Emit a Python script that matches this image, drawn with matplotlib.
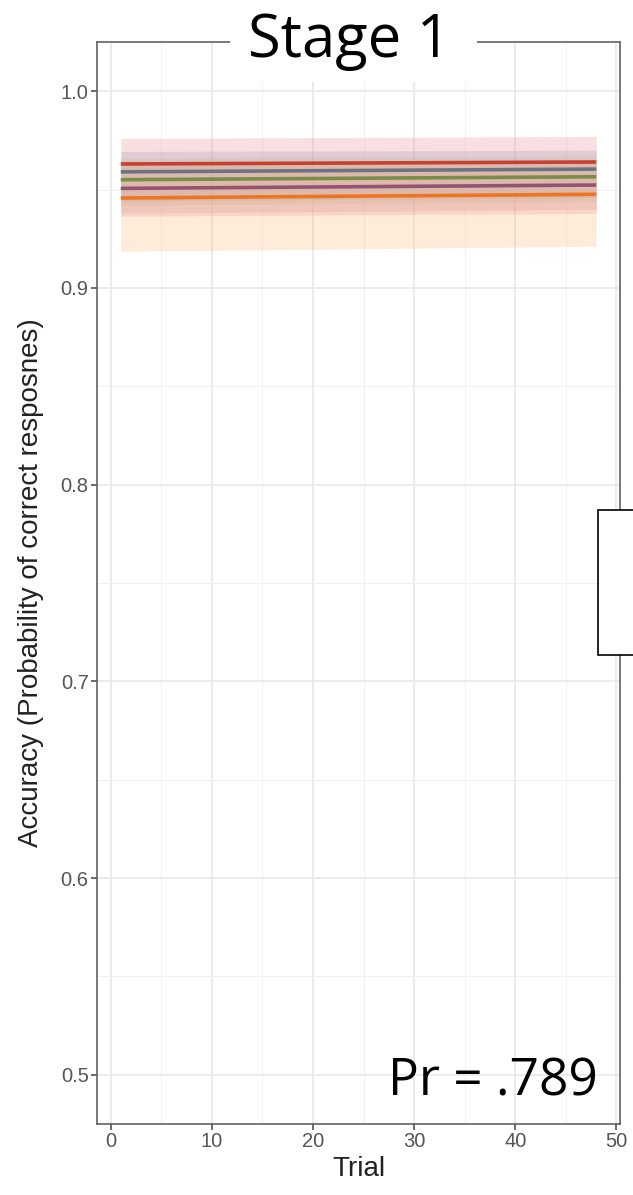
import numpy as np
import matplotlib
matplotlib.use("Agg")
import matplotlib.pyplot as plt
from matplotlib.patches import Rectangle

# Trial range of the fitted lines
trial_start = 1
trial_end = 48

# Fitted accuracy at first and last trial, plus ribbon bounds (lo, hi)
series_names = ["A", "B", "C", "D", "E"]
fit_first = [0.963, 0.959, 0.955, 0.9506, 0.9457]
fit_last = [0.964, 0.9604, 0.9565, 0.9523, 0.9476]
lo_first = [0.9364, 0.944, 0.942, 0.938, 0.9186]
lo_last = [0.9379, 0.946, 0.944, 0.940, 0.9212]
hi_first = [0.976, 0.9694, 0.966, 0.963, 0.962]
hi_last = [0.977, 0.970, 0.967, 0.964, 0.964]
line_colors = ["#c8402f", "#6b7385", "#7a8c4c", "#955374", "#ee7420"]
fill_colors = ["#f08a95", "#a09ab5", "#b5bd95", "#c99ab5", "#fdb877"]

plt.rcParams['font.family'] = ['Liberation Sans', 'DejaVu Sans']

W, H = 633, 1195
fig = plt.figure(figsize=(W / 100, H / 100), dpi=100)
ax = fig.add_axes([97 / W, 1 - 1124 / H, (620 - 97) / W, (1124 - 42) / H])

x = np.array([trial_start, trial_end])
for i in range(len(series_names)):
    ax.fill_between(x, [lo_first[i], lo_last[i]], [hi_first[i], hi_last[i]],
                    color=fill_colors[i], alpha=0.27, linewidth=0, zorder=2)
for i in range(len(series_names)):
    ax.plot(x, [fit_first[i], fit_last[i]], color=line_colors[i], lw=2.6,
            solid_capstyle='butt', zorder=3)

ax.set_xlim(-1.35, 50.35)
ax.set_ylim(0.475, 1.025)
ax.set_xticks([0, 10, 20, 30, 40, 50])
ax.set_yticks([0.5, 0.6, 0.7, 0.8, 0.9, 1.0])
ax.set_yticklabels(["0.5", "0.6", "0.7", "0.8", "0.9", "1.0"])
ax.set_xticks([5, 15, 25, 35, 45], minor=True)
ax.set_yticks([0.55, 0.65, 0.75, 0.85, 0.95], minor=True)
ax.grid(True, which='major', color='#e8e8e8', lw=1.2, zorder=0)
ax.grid(True, which='minor', color='#f0f0f0', lw=0.7, zorder=0)
ax.set_axisbelow(True)
ax.tick_params(which='major', direction='out', length=4, width=1.1,
               color='#444444', labelcolor='#555555', labelsize=14.5, pad=2)
ax.tick_params(which='minor', length=0)
for s in ax.spines.values():
    s.set_color('#555555')
    s.set_linewidth(1.1)

ax.set_xlabel("Trial", fontsize=20, color='#222222', labelpad=3)
ax.set_ylabel("Accuracy (Probability of correct resposnes)", fontsize=20,
              color='#222222', labelpad=12)

# Slide overlays: title patch, title, Pr label, clipped box at the right
fig.patches.append(Rectangle((230 / W, 1 - 82 / H), 247 / W, 82 / H,
                             transform=fig.transFigure, facecolor='white',
                             edgecolor='none', zorder=5))
fig.text(349 / W, 1 - 57 / H, "Stage 1", fontsize=43,
         family=['Open Sans', 'DejaVu Sans'], ha='center', va='baseline', zorder=6)
fig.text(598 / W, 1 - 1096 / H, "Pr = .789", fontsize=37,
         family=['Open Sans', 'DejaVu Sans'], ha='right', va='baseline', zorder=6)
fig.patches.append(Rectangle((598 / W, 1 - 655 / H), 0.1, 145 / H,
                             transform=fig.transFigure, facecolor='white',
                             edgecolor='black', lw=1.2, zorder=5))

fig.savefig("out.png", dpi=100)
